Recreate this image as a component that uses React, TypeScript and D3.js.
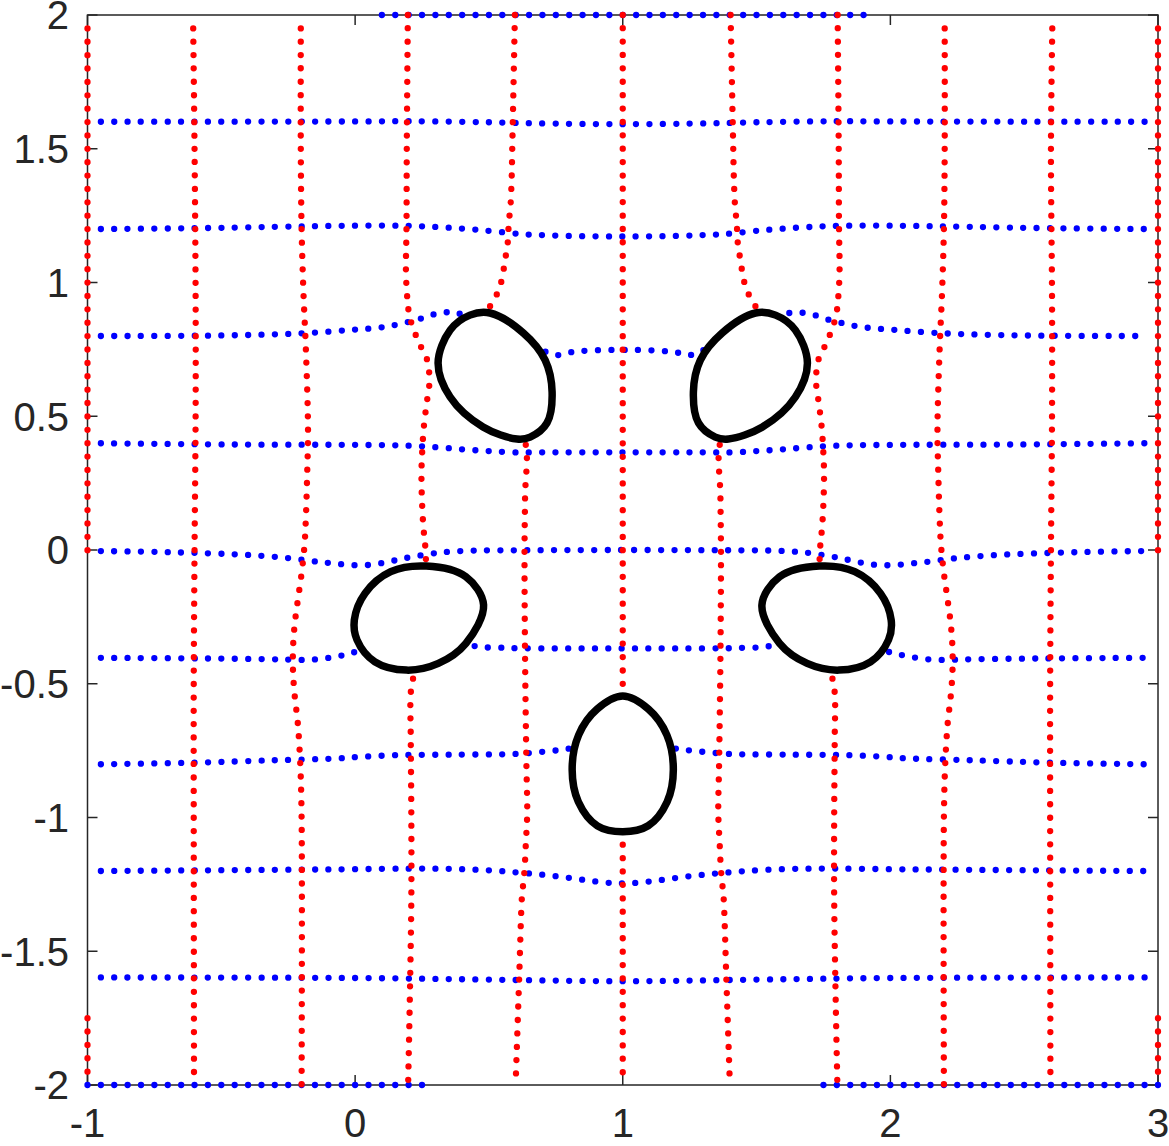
import React from 'react';
import * as d3 from 'd3';

type P = [number, number];

const xTicks: number[] = [-1, 0, 1, 2, 3];
const yTicks: number[] = [2, 1.5, 1, 0.5, 0, -0.5, -1, -1.5, -2];

// ---- red (vertical) grid lines ----
const redM1Top: P[] = [[-1, 1.95], [-1, -0.05]];
const redM1Bot: P[] = [[-1, -1.75], [-1, -2]];
const redM06: P[] = [[-0.605, 1.95], [-0.6, 1.5], [-0.596, 0.95], [-0.596, 0.5], [-0.6, 0], [-0.603, -0.5], [-0.603, -1], [-0.602, -2]];
const redM02: P[] = [[-0.203, 1.95], [-0.203, 1.5], [-0.2, 1.2], [-0.193, 0.96], [-0.184, 0.75], [-0.176, 0.45], [-0.179, 0.29], [-0.184, 0.12], [-0.189, 0.02], [-0.2, -0.087], [-0.214, -0.187], [-0.226, -0.28], [-0.232, -0.367], [-0.232, -0.455], [-0.226, -0.542], [-0.214, -0.65], [-0.205, -0.8], [-0.2, -1.0], [-0.2, -2]];
const redP02: P[] = [[0.197, 2], [0.193, 1.5], [0.192, 1.212], [0.19, 1.034], [0.195, 0.941], [0.199, 0.9], [0.209, 0.853], [0.224, 0.81], [0.243, 0.766], [0.271, 0.704], [0.277, 0.617], [0.268, 0.554], [0.261, 0.498], [0.255, 0.442], [0.252, 0.389], [0.249, 0.336], [0.248, 0.25], [0.254, 0.1], [0.264, -0.019], [0.26, -0.2], [0.23, -0.4], [0.219, -0.467], [0.208, -0.533], [0.208, -0.71], [0.21, -1.0], [0.21, -1.3], [0.204, -1.7], [0.198, -2]];
const redP06: P[] = [[0.597, 2], [0.591, 1.695], [0.587, 1.495], [0.585, 1.396], [0.581, 1.296], [0.576, 1.24], [0.572, 1.186], [0.569, 1.134], [0.56, 1.084], [0.552, 1.031], [0.538, 0.975], [0.51, 0.92], [0.49, 0.885], [0.55, 0.65], [0.6, 0.45], [0.636, 0.399], [0.635, 0.2], [0.633, 0], [0.635, -0.4], [0.64, -0.8], [0.643, -0.983], [0.638, -1.095], [0.633, -1.196], [0.627, -1.259], [0.623, -1.301], [0.613, -1.6], [0.601, -1.96]];
const redP10: P[] = [[1, 2], [1, 0], [1, -1.96]];
const redP14: P[] = [[1.403, 2], [1.409, 1.695], [1.413, 1.495], [1.415, 1.396], [1.419, 1.296], [1.424, 1.24], [1.428, 1.186], [1.431, 1.134], [1.44, 1.084], [1.448, 1.031], [1.462, 0.975], [1.49, 0.92], [1.51, 0.885], [1.45, 0.65], [1.4, 0.45], [1.364, 0.399], [1.365, 0.2], [1.367, 0], [1.365, -0.4], [1.36, -0.8], [1.357, -0.983], [1.362, -1.095], [1.367, -1.196], [1.373, -1.259], [1.377, -1.301], [1.387, -1.6], [1.399, -1.96]];
const redP18: P[] = [[1.803, 2], [1.807, 1.5], [1.808, 1.212], [1.81, 1.034], [1.805, 0.941], [1.801, 0.9], [1.791, 0.853], [1.776, 0.81], [1.757, 0.766], [1.729, 0.704], [1.723, 0.617], [1.732, 0.554], [1.739, 0.498], [1.745, 0.442], [1.748, 0.389], [1.751, 0.336], [1.752, 0.25], [1.746, 0.1], [1.736, -0.019], [1.74, -0.2], [1.77, -0.4], [1.781, -0.467], [1.792, -0.533], [1.792, -0.71], [1.79, -1.0], [1.79, -1.3], [1.796, -1.7], [1.802, -2]];
const redP22: P[] = [[2.203, 1.95], [2.203, 1.5], [2.2, 1.2], [2.193, 0.96], [2.184, 0.75], [2.176, 0.45], [2.179, 0.29], [2.184, 0.12], [2.189, 0.02], [2.2, -0.087], [2.214, -0.187], [2.226, -0.28], [2.232, -0.367], [2.232, -0.455], [2.226, -0.542], [2.214, -0.65], [2.205, -0.8], [2.2, -1.0], [2.2, -2]];
const redP26: P[] = [[2.605, 1.95], [2.6, 1.5], [2.604, 0.95], [2.604, 0.5], [2.6, 0], [2.597, -0.5], [2.597, -1], [2.598, -2]];
const redP3Top: P[] = [[3, 1.95], [3, -0.05]];
const redP3Bot: P[] = [[3, -1.75], [3, -2]];

// ---- blue (horizontal) grid lines ----
const blueP2: P[] = [[0.1, 2], [1.9, 2]];
const blueP16: P[] = [[-0.95, 1.601], [0, 1.602], [0.2, 1.603], [0.5, 1.599], [0.68, 1.595], [1, 1.592], [1.32, 1.595], [1.5, 1.599], [1.8, 1.603], [2, 1.602], [2.95, 1.601]];
const blueP12: P[] = [[-0.95, 1.2], [-0.6, 1.203], [-0.3, 1.208], [-0.05, 1.212], [0.19, 1.212], [0.33, 1.206], [0.47, 1.196], [0.62, 1.181], [0.68, 1.178], [0.8, 1.174], [1, 1.172], [1.2, 1.174], [1.32, 1.178], [1.38, 1.181], [1.53, 1.196], [1.67, 1.206], [1.81, 1.212], [2.05, 1.212], [2.3, 1.208], [2.6, 1.203], [2.95, 1.2]];
const blueP08: P[] = [[-0.95, 0.8], [-0.5, 0.802], [-0.2, 0.81], [0.012, 0.825], [0.066, 0.829], [0.116, 0.835], [0.166, 0.845], [0.249, 0.866], [0.286, 0.879], [0.317, 0.885], [0.346, 0.889], [0.371, 0.887], [0.398, 0.881], [0.6, 0.8], [0.747, 0.729], [0.797, 0.738], [0.85, 0.744], [0.95, 0.748], [1, 0.748], [1.05, 0.748], [1.15, 0.744], [1.203, 0.738], [1.253, 0.729], [1.4, 0.8], [1.602, 0.881], [1.629, 0.887], [1.654, 0.889], [1.683, 0.885], [1.714, 0.879], [1.751, 0.866], [1.834, 0.845], [1.884, 0.835], [1.934, 0.829], [1.988, 0.825], [2.2, 0.81], [2.5, 0.802], [2.95, 0.8]];
const blueP04: P[] = [[-0.95, 0.399], [-0.4, 0.394], [0, 0.393], [0.2, 0.39], [0.308, 0.384], [0.405, 0.376], [0.498, 0.37], [0.592, 0.365], [0.7, 0.365], [1, 0.365], [1.3, 0.365], [1.408, 0.365], [1.502, 0.37], [1.595, 0.376], [1.692, 0.384], [1.8, 0.39], [2, 0.393], [2.4, 0.394], [2.95, 0.399]];
const blueZero: P[] = [[-0.95, -0.004], [-0.7, -0.008], [-0.392, -0.019], [-0.243, -0.031], [-0.139, -0.044], [-0.081, -0.05], [-0.018, -0.056], [0.049, -0.056], [0.111, -0.047], [0.166, -0.035], [0.216, -0.025], [0.313, -0.01], [0.358, -0.006], [0.45, -0.002], [0.6, -0.001], [1, 0], [1.4, -0.001], [1.55, -0.002], [1.642, -0.006], [1.687, -0.01], [1.784, -0.025], [1.834, -0.035], [1.889, -0.047], [1.951, -0.056], [2.018, -0.056], [2.081, -0.05], [2.139, -0.044], [2.243, -0.031], [2.392, -0.019], [2.7, -0.008], [2.95, -0.004]];
const blueM04: P[] = [[-0.95, -0.403], [-0.5, -0.406], [-0.273, -0.409], [-0.192, -0.411], [-0.147, -0.409], [-0.11, -0.405], [-0.074, -0.399], [-0.044, -0.393], [-0.015, -0.384], [0.2, -0.37], [0.443, -0.359], [0.487, -0.364], [0.539, -0.365], [0.588, -0.367], [0.8, -0.368], [1, -0.368], [1.2, -0.368], [1.412, -0.367], [1.461, -0.365], [1.513, -0.364], [1.557, -0.359], [1.8, -0.37], [2.015, -0.384], [2.044, -0.393], [2.074, -0.399], [2.11, -0.405], [2.147, -0.409], [2.192, -0.411], [2.273, -0.409], [2.5, -0.406], [2.95, -0.403]];
const blueM08: P[] = [[-0.95, -0.801], [-0.6, -0.795], [-0.3, -0.786], [-0.061, -0.779], [-0.007, -0.775], [0.154, -0.767], [0.372, -0.765], [0.587, -0.763], [0.638, -0.76], [0.694, -0.755], [0.745, -0.75], [0.794, -0.743], [1, -0.74], [1.206, -0.743], [1.255, -0.75], [1.306, -0.755], [1.362, -0.76], [1.413, -0.763], [1.628, -0.765], [1.846, -0.767], [2.007, -0.775], [2.061, -0.779], [2.3, -0.786], [2.6, -0.795], [2.95, -0.801]];
const blueM12: P[] = [[-0.95, -1.2], [-0.5, -1.197], [-0.094, -1.194], [0.263, -1.191], [0.4, -1.193], [0.527, -1.199], [0.577, -1.203], [0.68, -1.212], [0.78, -1.223], [0.874, -1.236], [0.96, -1.245], [1, -1.246], [1.04, -1.245], [1.126, -1.236], [1.22, -1.223], [1.32, -1.212], [1.423, -1.203], [1.473, -1.199], [1.6, -1.193], [1.737, -1.191], [2.094, -1.194], [2.5, -1.197], [2.95, -1.2]];
const blueM16: P[] = [[-0.95, -1.598], [0, -1.6], [0.5, -1.606], [1, -1.612], [1.5, -1.606], [2, -1.6], [2.95, -1.598]];
const blueM2Left: P[] = [[-1, -2], [0.25, -2]];
const blueM2Right: P[] = [[1.75, -2], [3, -2]];

// ---- obstacles (boundary points) ----
const obstacleA: P[] = [[0.504, 0.886], [0.629, 0.811], [0.71, 0.71], [0.736, 0.591], [0.717, 0.475], [0.654, 0.422], [0.605, 0.415], [0.478, 0.46], [0.355, 0.572], [0.31, 0.699], [0.355, 0.822], [0.429, 0.878]];
const obstacleB: P[] = [[1.496, 0.886], [1.371, 0.811], [1.29, 0.71], [1.264, 0.591], [1.283, 0.475], [1.346, 0.422], [1.395, 0.415], [1.522, 0.46], [1.645, 0.572], [1.69, 0.699], [1.645, 0.822], [1.571, 0.878]];
const obstacleC: P[] = [[0.266, -0.06], [0.414, -0.1], [0.48, -0.206], [0.414, -0.349], [0.311, -0.424], [0.192, -0.449], [0.074, -0.418], [0.007, -0.336], [-0.003, -0.262], [0.037, -0.162], [0.133, -0.081]];
const obstacleD: P[] = [[1.734, -0.06], [1.586, -0.1], [1.52, -0.206], [1.586, -0.349], [1.689, -0.424], [1.808, -0.449], [1.926, -0.418], [1.993, -0.336], [2.003, -0.262], [1.963, -0.162], [1.867, -0.081]];
const obstacleE: P[] = [[1.0, -0.546], [1.096, -0.595], [1.165, -0.692], [1.189, -0.822], [1.166, -0.941], [1.095, -1.031], [1.0, -1.053], [0.905, -1.031], [0.834, -0.941], [0.811, -0.822], [0.835, -0.692], [0.904, -0.595]];

const redLines: P[][] = [redM1Top, redM1Bot, redM06, redM02, redP02, redP06, redP10, redP14, redP18, redP22, redP26, redP3Top, redP3Bot];
const blueLines: P[][] = [blueP2, blueP16, blueP12, blueP08, blueP04, blueZero, blueM04, blueM08, blueM12, blueM16, blueM2Left, blueM2Right];
const obstacles: P[][] = [obstacleA, obstacleB, obstacleC, obstacleD, obstacleE];

export default function App() {
  const W = 1169;
  const H = 1146;
  const x = d3.scaleLinear().domain([-1, 3]).range([87.5, 1158]);
  const y = d3.scaleLinear().domain([-2, 2]).range([1085, 15]);
  const line = d3.line<P>().x(d => x(d[0])).y(d => y(d[1])).curve(d3.curveCatmullRom.alpha(0.5));
  const closed = d3.line<P>().x(d => x(d[0])).y(d => y(d[1])).curve(d3.curveCatmullRomClosed.alpha(0.5));
  const axisColor = '#262626';
  const tickLen = 10;
  const dash = '0 13.38';
  const dotW = 6.3;
  const font = '"Liberation Sans", Arial, Helvetica, sans-serif';
  const [x0, x1] = x.range();
  const [y0, y1] = y.range();
  return (
    <svg width={W} height={H} viewBox={`0 0 ${W} ${H}`} style={{ position: 'absolute', left: 0, top: 0, display: 'block', background: '#fff' }}>
      <rect x={0} y={0} width={W} height={H} fill="#fff" />
      {/* axes box */}
      <rect x={x0} y={y1} width={x1 - x0} height={y0 - y1} fill="none" stroke={axisColor} strokeWidth={1.5} />
      {xTicks.map(t => (
        <g key={'xt' + t}>
          <line x1={x(t)} x2={x(t)} y1={y0} y2={y0 - tickLen} stroke={axisColor} strokeWidth={1.5} />
          <line x1={x(t)} x2={x(t)} y1={y1} y2={y1 + tickLen} stroke={axisColor} strokeWidth={1.5} />
          <text x={x(t)} y={1137} textAnchor="middle" fontFamily={font} fontSize={40} fill={axisColor}>{String(t)}</text>
        </g>
      ))}
      {yTicks.map(t => (
        <g key={'yt' + t}>
          <line x1={x0} x2={x0 + tickLen} y1={y(t)} y2={y(t)} stroke={axisColor} strokeWidth={1.5} />
          <line x1={x1} x2={x1 - tickLen} y1={y(t)} y2={y(t)} stroke={axisColor} strokeWidth={1.5} />
          <text x={69} y={y(t)} dy="0.36em" textAnchor="end" fontFamily={font} fontSize={40} fill={axisColor}>{String(t)}</text>
        </g>
      ))}
      {/* blue lines */}
      {blueLines.map((pts, i) => (
        <path key={'b' + i} d={line(pts) || ''} fill="none" stroke="#0000ff" strokeWidth={dotW} strokeLinecap="round" strokeDasharray={dash} />
      ))}
      {/* red lines */}
      {redLines.map((pts, i) => (
        <path key={'r' + i} d={line(pts) || ''} fill="none" stroke="#ff0000" strokeWidth={dotW} strokeLinecap="round" strokeDasharray={dash} />
      ))}
      {/* obstacles */}
      {obstacles.map((pts, i) => (
        <path key={'o' + i} d={closed(pts) || ''} fill="#fff" stroke="#000" strokeWidth={7.5} />
      ))}
    </svg>
  );
}
